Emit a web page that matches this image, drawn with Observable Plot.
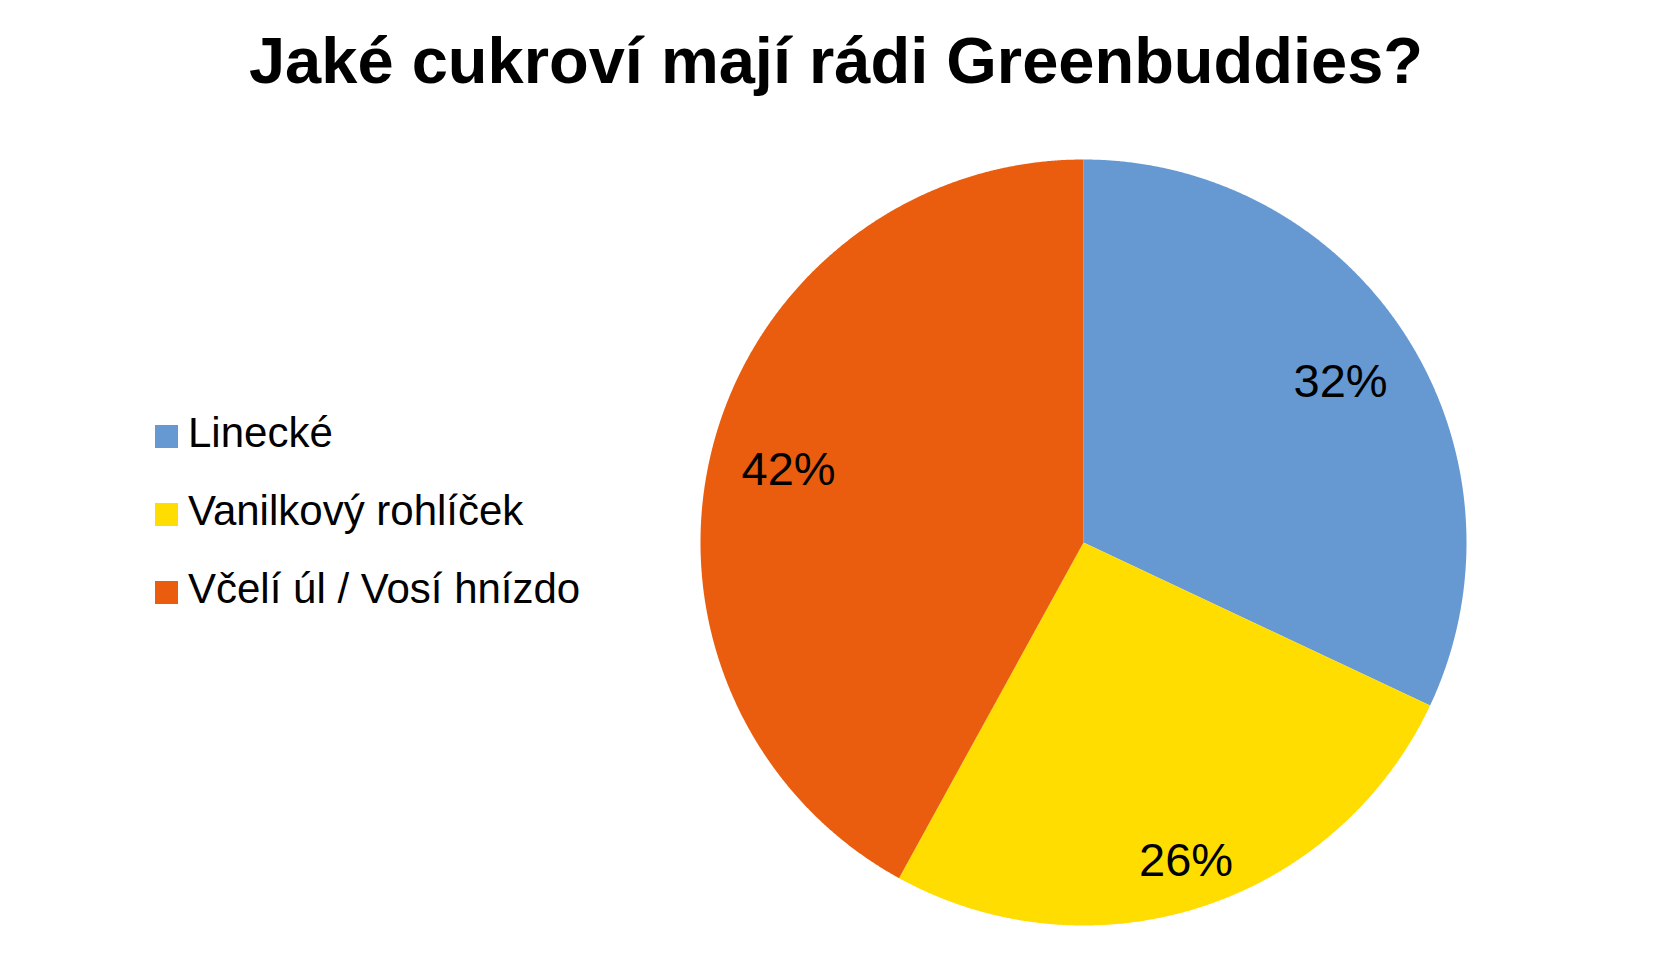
<!DOCTYPE html>
<html>
<head>
<meta charset="utf-8">
<script src="https://cdn.jsdelivr.net/npm/d3@7"></script>
<script src="https://cdn.jsdelivr.net/npm/@observablehq/plot@0.6"></script>
<style>
  html, body { margin: 0; padding: 0; background: #fff; }
  body { width: 1668px; height: 960px; overflow: hidden; font-family: "Liberation Sans", Arial, Helvetica, sans-serif; }
  #title { height: 130px; box-sizing: border-box; padding-top: 28px; margin: 0; text-align: center;
           font-size: 65px; line-height: 65px; font-weight: bold; color: #000; padding-left: 4px; }
  #row { display: flex; flex-direction: row; height: 830px; }
  #legend { position: relative; width: 700px; height: 830px; flex: none; }
  .sw { position: absolute; left: 155px; width: 23px; height: 23px; }
  .lt { position: absolute; left: 188px; font-size: 42px; line-height: 42px; color: #000; white-space: nowrap; }
  #chart { flex: none; }
</style>
</head>
<body>
<div id="title">Jaké cukroví mají rádi Greenbuddies?</div>
<div id="row">
  <div id="legend"></div>
  <div id="chart"></div>
</div>
<script>
const categories = ["Linecké", "Vanilkový rohlíček", "Včelí úl / Vosí hnízdo"];
const values = [32, 26, 42];
const labels = ["32%", "26%", "42%"];
const colors = ["#6699D2", "#FFDD00", "#EA5D0E"];

// legend (HTML)
const legend = document.getElementById("legend");
categories.forEach((c, i) => {
  const sw = document.createElement("div");
  sw.className = "sw";
  sw.style.background = colors[i];
  sw.style.top = (295 + i * 78) + "px";
  legend.appendChild(sw);
  const t = document.createElement("div");
  t.className = "lt";
  t.textContent = c;
  t.style.top = (282 + i * 78) + "px";
  legend.appendChild(t);
});

// pie geometry from data
const arcs = d3.pie().sort(null).value(d => d.value)(
  categories.map((c, i) => ({ name: c, value: values[i], label: labels[i] }))
);
const pts = [];
arcs.forEach(a => {
  pts.push({ name: a.data.name, x: 0, y: 0 });
  const n = Math.max(2, Math.ceil((a.endAngle - a.startAngle) / (Math.PI / 720)));
  for (let k = 0; k <= n; k++) {
    const t = a.startAngle + (a.endAngle - a.startAngle) * k / n;
    pts.push({ name: a.data.name, x: Math.sin(t), y: Math.cos(t) });
  }
  pts.push({ name: a.data.name, x: 0, y: 0 });
});
// "best fit"-like label placement: inside the slice, pushed further out for slices pointing down
const labelPts = arcs.map(a => {
  const m = (a.startAngle + a.endAngle) / 2;
  const r = 0.795 + 0.075 * Math.max(0, -Math.cos(m));
  return { label: a.data.label, x: r * Math.sin(m), y: r * Math.cos(m) };
});

const R = 383;
const W = 968, H = 830;
const cx = 383, cy = 412;
const chart = Plot.plot({
  width: W,
  height: H,
  marginLeft: cx - R,
  marginRight: W - (cx + R),
  marginTop: cy - R,
  marginBottom: H - (cy + R),
  x: { domain: [-1, 1], axis: null },
  y: { domain: [-1, 1], axis: null },
  color: { domain: categories, range: colors },
  style: { fontFamily: "'Liberation Sans', Arial, Helvetica, sans-serif", background: "transparent" },
  marks: [
    Plot.line(pts, { x: "x", y: "y", z: "name", fill: "name", stroke: null, curve: "linear" }),
    Plot.text(labelPts, { x: "x", y: "y", text: "label", fontSize: 47, fill: "#000", dy: 3 })
  ]
});
document.getElementById("chart").appendChild(chart);
</script>
</body>
</html>
